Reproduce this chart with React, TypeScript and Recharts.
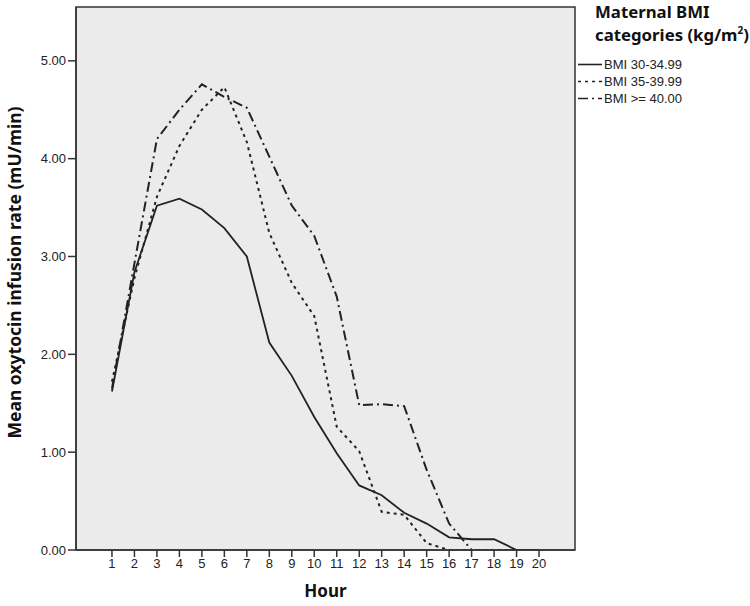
import { LineChart, Line, XAxis, YAxis, ReferenceArea } from 'recharts';

// ---------------------------------------------------------------------------
// Data
// ---------------------------------------------------------------------------

const hours = [1, 2, 3, 4, 5, 6, 7, 8, 9, 10, 11, 12, 13, 14, 15, 16, 17, 18, 19, 20];

const bmi30 = [1.62, 2.84, 3.52, 3.59, 3.48, 3.29, 3.0, 2.12, 1.78, 1.36, 0.99, 0.66, 0.56, 0.38, 0.27, 0.13, 0.11, 0.11, 0.0, 0.0];
const bmi35 = [1.72, 2.78, 3.61, 4.13, 4.5, 4.73, 4.17, 3.24, 2.73, 2.39, 1.26, 1.01, 0.39, 0.36, 0.07, 0.0, 0.0, 0.0, 0.0, null];
const bmi40 = [1.65, 2.93, 4.2, 4.5, 4.76, 4.63, 4.52, 4.02, 3.52, 3.21, 2.59, 1.48, 1.49, 1.47, 0.82, 0.27, 0.0, null, null, null];

const yTicks = [0, 1, 2, 3, 4, 5];
const X_DOMAIN: [number, number] = [-0.6, 21.6];
const Y_DOMAIN: [number, number] = [0, 5.55];

const SERIES = [
  { key: 'bmi30', name: 'BMI 30-34.99', dash: undefined as string | undefined },
  { key: 'bmi35', name: 'BMI 35-39.99', dash: '3 4' },
  { key: 'bmi40', name: 'BMI >= 40.00', dash: '10 4 2 4' },
];

const rows = hours.map((h, i) => ({
  hour: h,
  bmi30: bmi30[i],
  bmi35: bmi35[i],
  bmi40: bmi40[i],
}));

const INK = '#222';
const TICK_FONT = '"Liberation Sans", Arial, sans-serif';
const TITLE_FONT = '"Noto Sans", "Open Sans", sans-serif';

function YLabel({ viewBox }: any) {
  const cy = viewBox.y + viewBox.height / 2 - 6;
  return (
    <text
      x={14}
      y={cy}
      transform={`rotate(-90 14 ${cy})`}
      textAnchor="middle"
      dominantBaseline="central"
      fontFamily={TITLE_FONT}
      fontWeight={700}
      fontSize={17.5}
      fill="#111"
    >
      Mean oxytocin infusion rate (mU/min)
    </text>
  );
}

function XLabel({ viewBox }: any) {
  const cx = viewBox.x + viewBox.width / 2;
  return (
    <text
      x={cx}
      y={590}
      textAnchor="middle"
      dominantBaseline="central"
      fontFamily={TITLE_FONT}
      fontWeight={700}
      fontSize={17}
      fill="#111"
    >
      Hour
    </text>
  );
}

function LegendBox() {
  return (
    <div style={{ position: 'absolute', left: 578, top: 0, width: 172 }}>
      <div
        style={{
          position: 'absolute',
          left: 17,
          top: 0,
          fontFamily: TITLE_FONT,
          fontWeight: 700,
          fontSize: 16.8,
          lineHeight: '23px',
          color: '#111',
          whiteSpace: 'nowrap',
        }}
      >
        Maternal BMI
        <br />
        categories (kg/m<sup style={{ fontSize: 10, lineHeight: 0 }}>2</sup>)
      </div>
      {SERIES.map((s, i) => (
        <div
          key={s.key}
          style={{ position: 'absolute', left: 0, top: 56 + i * 17, height: 17, display: 'flex', alignItems: 'center' }}
        >
          <svg width={26} height={17}>
            <line x1={0} x2={24} y1={8.5} y2={8.5} stroke={INK} strokeWidth={1.6} strokeDasharray={s.dash} />
          </svg>
          <span style={{ fontFamily: TICK_FONT, fontSize: 13, color: INK, whiteSpace: 'nowrap' }}>{s.name}</span>
        </div>
      ))}
    </div>
  );
}

export default function App() {
  return (
    <div style={{ position: 'absolute', left: 0, top: 0, width: 750, height: 606, background: '#fff' }}>
      <LineChart width={750} height={606} data={rows} margin={{ top: 7, right: 175, bottom: 0, left: 0 }}>
        <ReferenceArea
          x1={X_DOMAIN[0]}
          x2={X_DOMAIN[1]}
          y1={Y_DOMAIN[0]}
          y2={Y_DOMAIN[1]}
          fill="#ebebeb"
          fillOpacity={1}
          stroke="#333"
          strokeWidth={1.5}
        />
        <XAxis
          dataKey="hour"
          type="number"
          domain={X_DOMAIN}
          ticks={hours}
          allowDataOverflow
          height={56}
          tickSize={7}
          axisLine={{ stroke: '#333', strokeWidth: 1.5 }}
          tickLine={{ stroke: '#333', strokeWidth: 1.5 }}
          tick={{ fontFamily: TICK_FONT, fontSize: 13, fill: INK }}
          label={<XLabel />}
        />
        <YAxis
          type="number"
          domain={Y_DOMAIN}
          ticks={yTicks}
          allowDataOverflow
          width={76}
          tickSize={8}
          tickFormatter={(v: number) => v.toFixed(2)}
          axisLine={{ stroke: '#333', strokeWidth: 1.5 }}
          tickLine={{ stroke: '#333', strokeWidth: 1.5 }}
          tick={{ fontFamily: TICK_FONT, fontSize: 13, fill: INK }}
          label={<YLabel />}
        />
        {SERIES.map((s) => (
          <Line
            key={s.key}
            type="linear"
            dataKey={s.key}
            name={s.name}
            stroke={INK}
            strokeWidth={s.dash ? 2 : 1.8}
            strokeDasharray={s.dash}
            dot={false}
            activeDot={false}
            connectNulls={false}
            isAnimationActive={false}
          />
        ))}
      </LineChart>
      <LegendBox />
    </div>
  );
}
